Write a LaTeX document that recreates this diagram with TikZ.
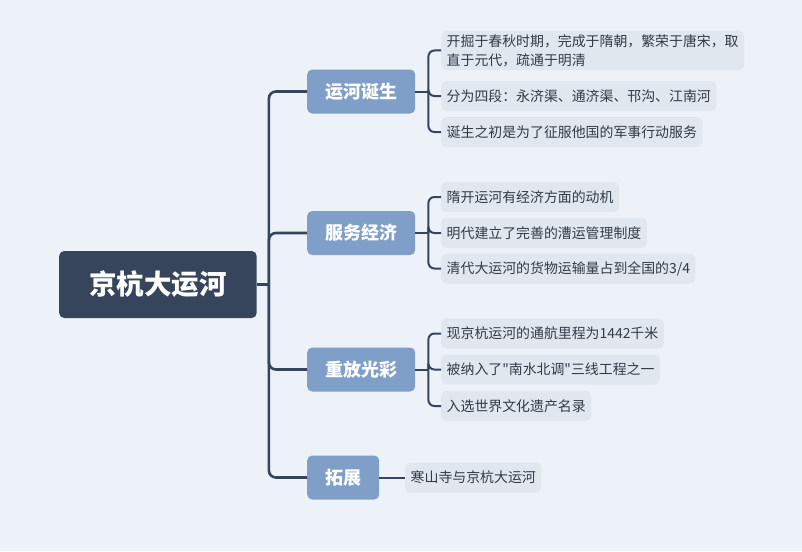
\documentclass[tikz,border=0pt]{standalone}
\usepackage{fontspec}
\setmainfont{Noto Sans CJK SC}
\usepackage{tikz}
\usetikzlibrary{positioning, calc, backgrounds}
\usepackage{xcolor}

\definecolor{bgblue}{HTML}{EDF2F9}
\definecolor{rootdark}{HTML}{36455C}
\definecolor{branchblue}{HTML}{809FC8}
\definecolor{leafgray}{HTML}{E1E7EF}
\definecolor{leaftext}{HTML}{333A44}
\newcommand{\plainquote}{\XeTeXglyph\XeTeXcharglyph34\relax}

\begin{document}
\begin{tikzpicture}[x=1pt, y=-1pt,
  rootbox/.style={fill=rootdark, rounded corners=5pt, text=white, anchor=west,
    font=\fontsize{27.5pt}{30pt}\selectfont\bfseries, inner xsep=30pt, minimum height=67pt},
  branchbox/.style={fill=branchblue, rounded corners=5pt, text=white, anchor=west,
    font=\fontsize{18pt}{20pt}\selectfont\bfseries, inner xsep=18pt, minimum height=44pt},
  leafbox/.style={fill=leafgray, rounded corners=5pt, text=leaftext, anchor=west, align=left,
    font=\fontsize{13.9pt}{19pt}\selectfont, inner xsep=5.5pt, minimum height=30pt},
  trunk/.style={draw=rootdark, line width=2.6pt, rounded corners=7pt},
  twig/.style={draw=rootdark, line width=2pt, rounded corners=6pt}]

\useasboundingbox (0,0) rectangle (802,551);
\fill[bgblue] (0,0) rectangle (802,551);

% root and main branches
\node[rootbox] (root) at (59,284.5) {京杭大运河};
\node[branchbox] (birth) at (307,91.5) {运河诞生};
\node[branchbox] (econ) at (307,233) {服务经济};
\node[branchbox] (shine) at (307,369.5) {重放光彩};
\node[branchbox] (ext) at (307,477.5) {拓展};

% leaves
\node[leafbox] (birthA) at (441,50.5) {开掘于春秋时期，完成于隋朝，繁荣于唐宋，取\\直于元代，疏通于明清};
\node[leafbox] (birthB) at (441,96) {分为四段：永济渠、通济渠、邗沟、江南河};
\node[leafbox] (birthC) at (441,132) {诞生之初是为了征服他国的军事行动服务};
\node[leafbox] (econA) at (441,197) {隋开运河有经济方面的动机};
\node[leafbox] (econB) at (441,233) {明代建立了完善的漕运管理制度};
\node[leafbox] (econC) at (441,268.5) {清代大运河的货物运输量占到全国的3/4};
\node[leafbox] (shineA) at (441,333.5) {现京杭运河的通航里程为1442千米};
\node[leafbox] (shineB) at (441,369.5) {被纳入了\plainquote 南水北调\plainquote 三线工程之一};
\node[leafbox] (shineC) at (441,406) {入选世界文化遗产名录};
\node[leafbox] (extA) at (405,477.5) {寒山寺与京杭大运河};

% connectors
\coordinate (hub) at ([xshift=12pt]root.east);
\draw[trunk] (root.east) -- (hub);
\foreach \b in {birth, econ, shine, ext}
  \draw[trunk] (hub) |- (\b.west);

\coordinate (birthJ) at ([xshift=13pt]birth.east);
\draw[twig] (birth.east) -- (birthJ);
\foreach \l in {birthA, birthB, birthC}
  \draw[twig] (birthJ) |- (\l.west);

\coordinate (econJ) at ([xshift=13pt]econ.east);
\draw[twig] (econ.east) -- (econJ);
\foreach \l in {econA, econB, econC}
  \draw[twig] (econJ) |- (\l.west);

\coordinate (shineJ) at ([xshift=13pt]shine.east);
\draw[twig] (shine.east) -- (shineJ);
\foreach \l in {shineA, shineB, shineC}
  \draw[twig] (shineJ) |- (\l.west);

\draw[twig] (ext.east) -- (extA.west);
\end{tikzpicture}
\end{document}
